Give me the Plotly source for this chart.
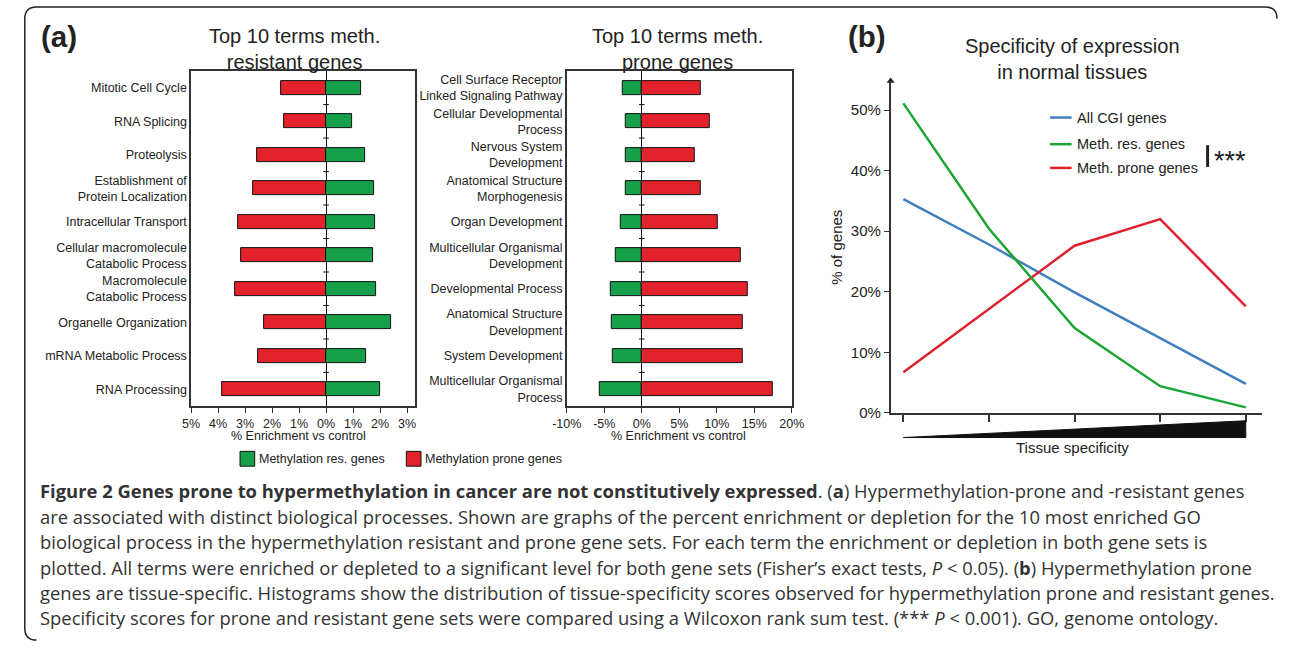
import plotly.graph_objects as go

W, H = 1293, 649

# ---------------- data ----------------
res_terms = ["Mitotic Cell Cycle", "RNA Splicing", "Proteolysis",
             "Establishment of<br>Protein Localization", "Intracellular Transport",
             "Cellular macromolecule<br>Catabolic Process", "Macromolecule<br>Catabolic Process",
             "Organelle Organization", "mRNA Metabolic Process", "RNA Processing"]
res_terms_resistant = [1.30, 0.95, 1.45, 1.77, 1.82, 1.73, 1.86, 2.40, 1.49, 2.02]
res_terms_prone = [-1.67, -1.56, -2.54, -2.72, -3.26, -3.15, -3.36, -2.28, -2.50, -3.84]

prone_terms = ["Cell Surface Receptor<br>Linked Signaling Pathway", "Cellular Developmental<br>Process",
               "Nervous System<br>Development", "Anatomical Structure<br>Morphogenesis",
               "Organ Development", "Multicellular Organismal<br>Development",
               "Developmental Process", "Anatomical Structure<br>Development",
               "System Development", "Multicellular Organismal<br>Process"]
prone_terms_resistant = [-2.6, -2.2, -2.1, -2.2, -2.8, -3.5, -4.2, -4.0, -3.9, -5.6]
prone_terms_prone = [7.8, 9.0, 7.0, 7.9, 10.1, 13.2, 14.1, 13.4, 13.4, 17.4]

left_ticks = [-5, -4, -3, -2, -1, 0, 1, 2, 3]
left_ticklabels = ["5%", "4%", "3%", "2%", "1%", "0%", "1%", "2%", "3%"]
mid_ticks = [-10, -5, 0, 5, 10, 15, 20]
mid_ticklabels = ["-10%", "-5%", "0%", "5%", "10%", "15%", "20%"]

spec_bins = [0, 1, 2, 3, 4]
all_cgi = [35.3, 27.8, 19.9, 12.4, 4.8]
meth_res = [51.1, 30.4, 14.0, 4.4, 0.9]
meth_prone = [6.7, 17.2, 27.6, 32.0, 17.6]
spec_yticks = [0, 10, 20, 30, 40, 50]
spec_yticklabels = ["0%", "10%", "20%", "30%", "40%", "50%"]

# ---------------- styles ----------------
RED = "#e3232b"
GREEN = "#16a04a"
BLUE = "#3f7fbd"
LGREEN = "#1ca532"
LRED = "#e1202f"
AX = "#333333"
FONT = "Liberation Sans, Arial, sans-serif"
CAPFONT = "Open Sans, sans-serif"


def px(x):
    return x / W


def py(y):
    return 1 - y / H


fig = go.Figure()

# left panel bars
n1 = list(range(len(res_terms)))
fig.add_trace(go.Bar(x=res_terms_prone, y=n1, orientation="h", width=0.42,
                     marker=dict(color=RED, line=dict(color="#111", width=1)),
                     xaxis="x", yaxis="y", showlegend=False))
fig.add_trace(go.Bar(x=res_terms_resistant, y=n1, orientation="h", width=0.42,
                     marker=dict(color=GREEN, line=dict(color="#111", width=1)),
                     xaxis="x", yaxis="y", showlegend=False))
fig.add_trace(go.Scatter(x=[0] * (len(n1) - 1), y=[i + 0.5 for i in n1[:-1]], mode="markers",
                         marker=dict(symbol="line-ew", size=4, line=dict(color="#111", width=1)),
                         xaxis="x", yaxis="y", showlegend=False, hoverinfo="skip"))

# middle panel bars
n2 = list(range(len(prone_terms)))
fig.add_trace(go.Bar(x=prone_terms_resistant, y=n2, orientation="h", width=0.42,
                     marker=dict(color=GREEN, line=dict(color="#111", width=1)),
                     xaxis="x2", yaxis="y2", showlegend=False))
fig.add_trace(go.Bar(x=prone_terms_prone, y=n2, orientation="h", width=0.42,
                     marker=dict(color=RED, line=dict(color="#111", width=1)),
                     xaxis="x2", yaxis="y2", showlegend=False))
fig.add_trace(go.Scatter(x=[0] * (len(n2) - 1), y=[i + 0.5 for i in n2[:-1]], mode="markers",
                         marker=dict(symbol="line-ew", size=4, line=dict(color="#111", width=1)),
                         xaxis="x2", yaxis="y2", showlegend=False, hoverinfo="skip"))

# right panel lines
for vals, col in [(all_cgi, BLUE), (meth_prone, LRED), (meth_res, LGREEN)]:
    fig.add_trace(go.Scatter(x=spec_bins, y=vals, mode="lines",
                             line=dict(color=col, width=2.5),
                             xaxis="x3", yaxis="y3", showlegend=False))

x3_range = [-0.149, 4.194]
y3_range = [0, 54.8]
fig.add_trace(go.Scatter(x=[x3_range[0]], y=[y3_range[1]], mode="markers",
                         marker=dict(symbol="triangle-up", size=7, color="#222"),
                         cliponaxis=False, xaxis="x3", yaxis="y3", showlegend=False,
                         hoverinfo="skip"))

bar_axis_common = dict(showgrid=False, showline=True, mirror=True, linecolor=AX, linewidth=1.5,
                       ticks="outside", ticklen=5, tickcolor=AX,
                       tickfont=dict(family=FONT, size=12.5, color="#222"),
                       zeroline=True, zerolinecolor="#111", zerolinewidth=1.2)
ycat_common = dict(showgrid=False, showline=True, mirror=True, linecolor=AX, linewidth=1.5,
                   ticks="", zeroline=False,
                   tickfont=dict(family=FONT, size=12.5, color="#222"))

fig.update_layout(
    width=W, height=H, margin=dict(l=0, r=0, t=0, b=0),
    paper_bgcolor="white", plot_bgcolor="white",
    barmode="overlay", bargap=0,
    xaxis=dict(domain=[px(180), px(409)], range=[-5, 3.3], tickvals=left_ticks,
               ticktext=left_ticklabels, anchor="y", **bar_axis_common),
    yaxis=dict(domain=[py(411), py(72)], range=[len(res_terms) - 0.5, -0.5],
               tickvals=n1, ticktext=res_terms, anchor="x", **ycat_common),
    xaxis2=dict(domain=[px(564), px(794)], range=[-10, 20], tickvals=mid_ticks,
                ticktext=mid_ticklabels, anchor="y2", **bar_axis_common),
    yaxis2=dict(domain=[py(411), py(72)], range=[len(prone_terms) - 0.5, -0.5],
                tickvals=n2, ticktext=prone_terms, anchor="x2", **ycat_common),
    xaxis3=dict(domain=[px(895), px(1275)], range=x3_range, tickvals=spec_bins,
                showticklabels=False, ticks="outside", ticklen=7, tickcolor=AX,
                tickwidth=1.5, showline=True, linecolor=AX, linewidth=1.5,
                showgrid=False, zeroline=False, anchor="y3"),
    yaxis3=dict(domain=[py(418), py(82)], range=y3_range, tickvals=spec_yticks,
                ticktext=spec_yticklabels, ticks="outside", ticklen=5, tickcolor=AX,
                showline=True, linecolor=AX, linewidth=1.5, showgrid=False,
                zeroline=False, anchor="x3",
                tickfont=dict(family=FONT, size=15, color="#222")),
)

ann = []
shapes = []


def text(x, y, s, size=12, xanchor="center", color="#222", family=FONT, angle=0, yanchor="middle"):
    ann.append(dict(x=px(x), y=py(y), xref="paper", yref="paper", text=s, showarrow=False,
                    xanchor=xanchor, yanchor=yanchor, textangle=angle,
                    font=dict(family=family, size=size, color=color)))


# panel labels & titles
text(25, 37, "<b>(a)</b>", size=29.5, xanchor="left", color="#222")
text(849, 37, "<b>(b)</b>", size=29.5, xanchor="left", color="#222")
text(286, 50, "Top 10 terms meth.<br>resistant genes", size=20)
text(677, 50, "Top 10 terms meth.<br>prone genes", size=20)
text(1081, 60, "Specificity of expression<br>in normal tissues", size=20)

# axis titles
text(290, 441, "% Enrichment vs control", size=12.5)
text(678, 441, "% Enrichment vs control", size=12.5)
text(840, 250, "% of genes", size=15, angle=-90)
text(1081, 453, "Tissue specificity", size=15)

# bottom bar legend
shapes.append(dict(type="rect", xref="paper", yref="paper", x0=px(230), x1=px(245),
                   y0=py(472), y1=py(457), fillcolor=GREEN, line=dict(color="#111", width=1)))
text(247, 465, "Methylation res. genes", size=12.5, xanchor="left")
shapes.append(dict(type="rect", xref="paper", yref="paper", x0=px(400), x1=px(415),
                   y0=py(472), y1=py(457), fillcolor=RED, line=dict(color="#111", width=1)))
text(417, 465, "Methylation prone genes", size=12.5, xanchor="left")

# right legend
for yy, col, lab in [(119, BLUE, "All CGI genes"), (146, LGREEN, "Meth. res. genes"),
                     (170, LRED, "Meth. prone genes")]:
    shapes.append(dict(type="line", xref="paper", yref="paper", x0=px(1058), x1=px(1080),
                       y0=py(yy), y1=py(yy), line=dict(color=col, width=2.5)))
    text(1083, yy, lab, size=14.5, xanchor="left")
shapes.append(dict(type="line", xref="paper", yref="paper", x0=px(1219), x1=px(1219),
                   y0=py(147), y1=py(169), line=dict(color="#222", width=3)))
text(1223, 163, "***", size=27, xanchor="left")

# wedge for tissue specificity
shapes.append(dict(type="path", xref="x3", yref="paper",
                   path=f"M {spec_bins[0]},{py(443)} L {spec_bins[-1]},{py(443)} "
                        f"L {spec_bins[-1]},{py(426)} Z",
                   fillcolor="#111", line=dict(color="#111", width=1)))

# border
border = (f"M {px(1290)},{py(19)} Q {px(1290)},{py(7)} {px(1278)},{py(7)} "
          f"L {px(22)},{py(7)} Q {px(10)},{py(7)} {px(10)},{py(19)} "
          f"L {px(10)},{py(636)} Q {px(10)},{py(648)} {px(22)},{py(648)}")
shapes.append(dict(type="path", xref="paper", yref="paper", path=border,
                   line=dict(color="#222", width=1.5)))

# caption
caption = [
    "<b>Figure 2 Genes prone to hypermethylation in cancer are not constitutively expressed</b>. "
    "(<b>a</b>) Hypermethylation-prone and -resistant genes",
    "are associated with distinct biological processes. Shown are graphs of the percent "
    "enrichment or depletion for the 10 most enriched GO",
    "biological process in the hypermethylation resistant and prone gene sets. For each term "
    "the enrichment or depletion in both gene sets is",
    "plotted. All terms were enriched or depleted to a significant level for both gene sets "
    "(Fisher’s exact tests, <i>P</i> &lt; 0.05). (<b>b</b>) Hypermethylation prone",
    "genes are tissue-specific. Histograms show the distribution of tissue-specificity scores "
    "observed for hypermethylation prone and resistant genes.",
    "Specificity scores for prone and resistant gene sets were compared using a Wilcoxon rank "
    "sum test. (*** <i>P</i> &lt; 0.001). GO, genome ontology.",
]
for i, line in enumerate(caption):
    text(24, 497 + i * 25.7, line, size=18.4, xanchor="left", color="#333", family=CAPFONT)

fig.update_layout(annotations=ann, shapes=shapes)
fig.write_html("out.html", config={"displayModeBar": False},
               post_script="document.body.style.margin='0';document.body.style.overflow='hidden';")
